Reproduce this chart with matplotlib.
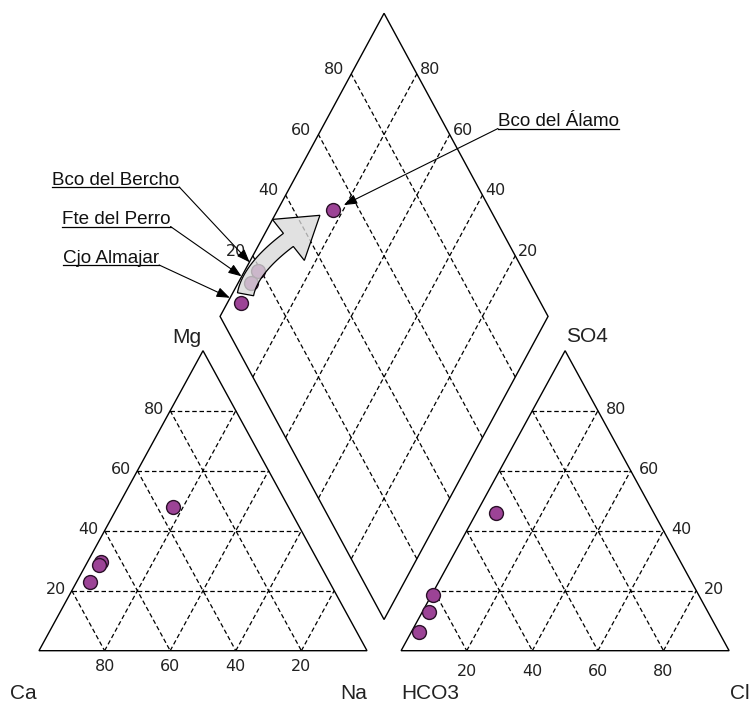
import numpy as np
import matplotlib
matplotlib.use('Agg')
import matplotlib.pyplot as plt
from matplotlib.patches import Polygon
from matplotlib.lines import Line2D
from matplotlib.transforms import IdentityTransform

# Samples (percent of meq/L)
samples = ['Bco del Álamo', 'Bco del Bercho', 'Fte del Perro', 'Cjo Almajar']
ca = [35.0, 66.5, 67.5, 73.0]
mg = [48.0, 29.5, 28.5, 23.0]
na = [17.0, 4.0, 4.0, 4.0]
hco3 = [48.0, 81.0, 85.0, 91.5]
so4 = [46.0, 18.5, 12.8, 6.1]
cl = [6.0, 0.5, 2.2, 2.4]

grid_vals = [20, 40, 60, 80]

# Piper geometry (triangle side = 1)
H = np.sqrt(3) / 2
GAP = 0.104
X0R = 1 + GAP
DB = (1 + GAP / 2, GAP * H)   # bottom vertex of the diamond
DH = 0.875                    # diamond half height

W, HPX = 750, 704


def cation_xy(c, m, n):
    return (n + m / 2) / 100, m / 100 * H


def anion_xy(h, s, c):
    return X0R + (c + s / 2) / 100, s / 100 * H


def diamond_xy(n, s):
    a = 1 - n / 100
    b = s / 100
    return DB[0] - 0.5 * a + 0.5 * b, DB[1] + DH * (a + b)


fig = plt.figure(figsize=(W / 100, HPX / 100), dpi=100)
ax = fig.add_axes([0, 0, 1, 1])
ax.set_xlim(-39 / 328, 711 / 328)
ax.set_ylim(-53.3 / 346.4, 650.7 / 346.4)
ax.axis('off')

dash = dict(color='black', lw=0.9, linestyle=(0, (3.6, 2.2)), zorder=1)
edge = dict(color='black', lw=1.0, zorder=2)
tick_font = dict(family='DejaVu Sans', fontsize=11.5, color='#222222')
corner_font = dict(family='Liberation Sans', fontsize=15, color='#222222')


def seg(p, q, **kw):
    ax.plot([p[0], q[0]], [p[1], q[1]], **kw)


def label(txt, xy, dx, dy, ha, va, font):
    ax.annotate(txt, xy=xy, xytext=(dx, dy), textcoords='offset pixels',
                ha=ha, va=va, **font)


# --- cation triangle ---
for v in grid_vals:
    seg(cation_xy(100 - v, v, 0), cation_xy(0, v, 100 - v), **dash)
    seg(cation_xy(v, 100 - v, 0), cation_xy(v, 0, 100 - v), **dash)
    seg(cation_xy(100 - v, 0, v), cation_xy(0, 100 - v, v), **dash)
    label(str(v), cation_xy(v, 0, 100 - v), 0, -16, 'center', 'center', tick_font)
    label(str(v), cation_xy(100 - v, v, 0), -6, 1, 'right', 'center', tick_font)
tri = [cation_xy(100, 0, 0), cation_xy(0, 0, 100), cation_xy(0, 100, 0)]
ax.add_patch(Polygon(tri, closed=True, fill=False, **edge))
label('Ca', tri[0], -2, -48, 'right', 'baseline', corner_font)
label('Na', tri[1], 0, -48, 'right', 'baseline', corner_font)
label('Mg', tri[2], -2, 8, 'right', 'baseline', corner_font)

# --- anion triangle ---
for v in grid_vals:
    seg(anion_xy(100 - v, v, 0), anion_xy(0, v, 100 - v), **dash)
    seg(anion_xy(v, 100 - v, 0), anion_xy(v, 0, 100 - v), **dash)
    seg(anion_xy(100 - v, 0, v), anion_xy(0, 100 - v, v), **dash)
    label(str(v), anion_xy(100 - v, 0, v), 0, -21, 'center', 'center', tick_font)
    label(str(v), anion_xy(0, v, 100 - v), 8, 1, 'left', 'center', tick_font)
tri = [anion_xy(100, 0, 0), anion_xy(0, 0, 100), anion_xy(0, 100, 0)]
ax.add_patch(Polygon(tri, closed=True, fill=False, **edge))
label('HCO3', tri[0], 0, -48, 'left', 'baseline', corner_font)
label('Cl', tri[1], 1, -48, 'left', 'baseline', corner_font)
label('SO4', tri[2], 1, 9, 'left', 'baseline', corner_font)

# --- diamond ---
for v in grid_vals:
    seg(diamond_xy(100, v), diamond_xy(0, v), **dash)
    seg(diamond_xy(100 - v, 0), diamond_xy(100 - v, 100), **dash)
    label(str(v), diamond_xy(0, v), -7, 0, 'right', 'baseline', tick_font)
    label(str(v), diamond_xy(100 - v, 100), 3, 0, 'left', 'baseline', tick_font)
dia = [diamond_xy(100, 0), diamond_xy(0, 0), diamond_xy(0, 100), diamond_xy(100, 100)]
ax.add_patch(Polygon(dia, closed=True, fill=False, **edge))

# --- samples ---
mk = dict(marker='o', ms=10, mfc='#9c4396', mec='#2a1028', mew=1.0, ls='none', zorder=4)
for i in range(len(samples)):
    ax.plot(*cation_xy(ca[i], mg[i], na[i]), **mk)
    ax.plot(*anion_xy(hco3[i], so4[i], cl[i]), **mk)
    ax.plot(*diamond_xy(na[i], so4[i] + cl[i]), **mk)

# --- curved evolution arrow ---
to_disp = ax.transData.transform
pts = {s: np.array(to_disp(diamond_xy(na[i], so4[i] + cl[i])))
       for i, s in enumerate(samples)}
p0 = pts['Fte del Perro'] + np.array([-5.7, -11.2])
tip = pts['Bco del Álamo'] + np.array([-13.3, -5.0])
hdir = np.array([0.789, 0.615])
p2 = tip - 40 * hdir
p1 = p0 + np.array([4.8, 25.6])
half_w, head_hw = 8.2, 26.0

ts = np.linspace(0, 1, 40)
right, left = [], []
for t in ts:
    pt = (1 - t) ** 2 * p0 + 2 * (1 - t) * t * p1 + t ** 2 * p2
    tg = 2 * (1 - t) * (p1 - p0) + 2 * t * (p2 - p1)
    tg = tg / np.linalg.norm(tg)
    nrm = np.array([tg[1], -tg[0]])
    right.append(pt + half_w * nrm)
    left.append(pt - half_w * nrm)
nend = np.array([hdir[1], -hdir[0]])
outline = right + [p2 + head_hw * nend, tip, p2 - head_hw * nend] + left[::-1]
outline = ax.transData.inverted().transform(np.array(outline))
ax.add_patch(Polygon(outline, closed=True, facecolor=(0.85, 0.85, 0.85, 0.78),
                     edgecolor='black', lw=0.9, zorder=5))

# --- sample labels with leaders ---
label_pos = {
    'Bco del Bercho': (52, 185, 'right'),
    'Fte del Perro': (62, 224.5, 'right'),
    'Cjo Almajar': (63, 263, 'right'),
    'Bco del Álamo': (498, 126.5, 'left'),
}
fig.canvas.draw()
renderer = fig.canvas.get_renderer()
for i, s in enumerate(samples):
    x, base, side = label_pos[s]
    t = fig.text(x / W, 1 - base / HPX, s, ha='left', va='baseline',
                 family='Liberation Sans', fontsize=13.6, color='#111111')
    bb = t.get_window_extent(renderer)
    uy = HPX - base - 2
    fig.add_artist(Line2D([bb.x0, bb.x1], [uy, uy], color='black', lw=0.9,
                          transform=IdentityTransform()))
    sx = bb.x1 if side == 'right' else bb.x0
    ax.annotate('', xy=diamond_xy(na[i], so4[i] + cl[i]), xycoords='data',
                xytext=(sx, uy), textcoords='figure pixels',
                arrowprops=dict(arrowstyle='-|>,head_length=0.8,head_width=0.3',
                                color='black', lw=0.8, shrinkA=0, shrinkB=8.5,
                                mutation_scale=10),
                zorder=6)

fig.savefig('out.png', dpi=100, facecolor='white')
